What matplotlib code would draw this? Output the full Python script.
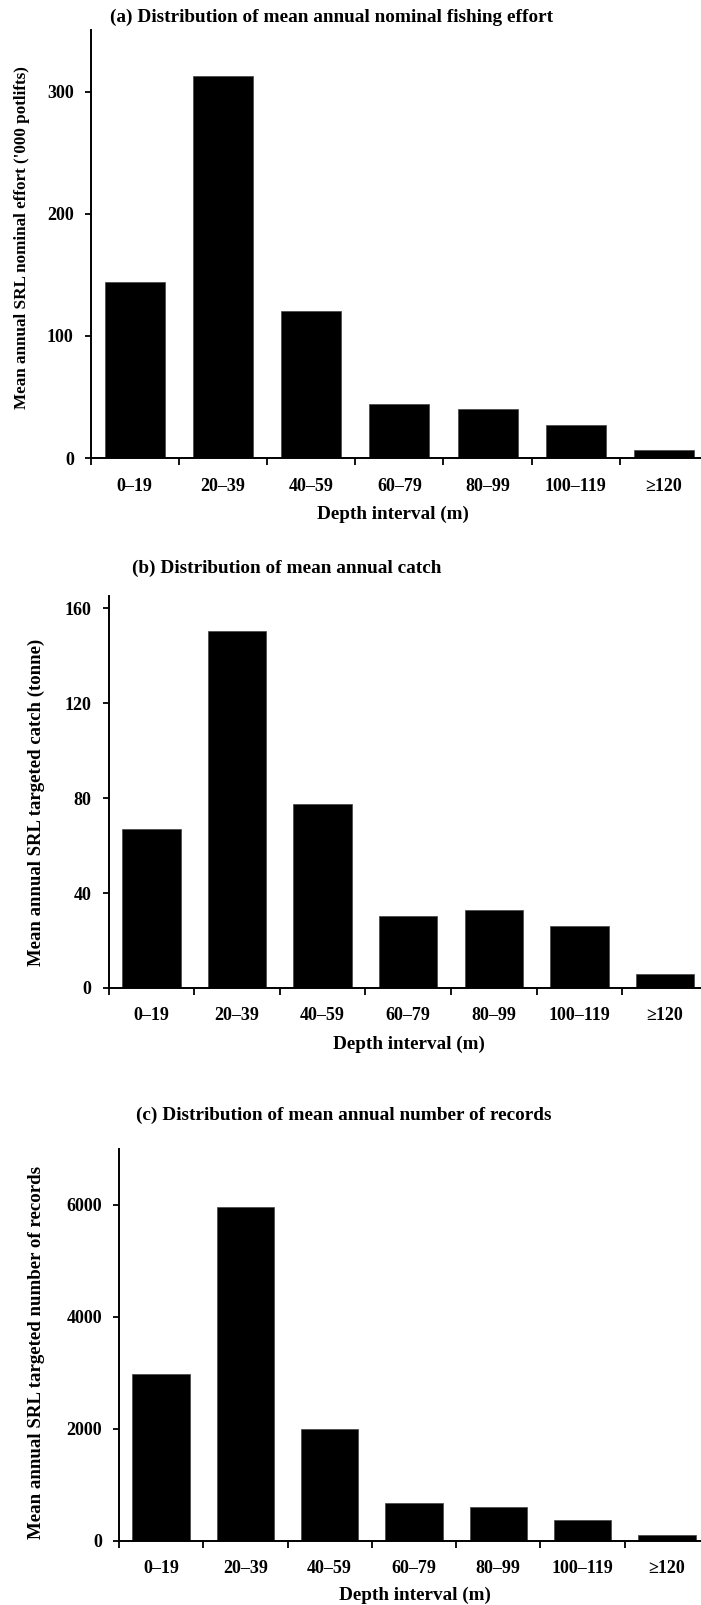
import matplotlib
matplotlib.use('Agg')
import matplotlib.pyplot as plt
import numpy as np

plt.rcParams['font.family'] = ['Liberation Serif', 'DejaVu Serif']
plt.rcParams['font.weight'] = 'bold'

depth = ['0\u201319', '20\u201339', '40\u201359', '60\u201379', '80\u201399', '100\u2013119', '\u2265120']
effort = [144, 313, 120, 44, 40, 27, 7]
catch = [67, 150.5, 77.5, 30.5, 33, 26, 6]
records = [2980, 5950, 2000, 676, 595, 378, 93]

W, H = 701, 1605
fig = plt.figure(figsize=(W / 100, H / 100), dpi=100)

# panel layout in pixels: left, right, top, bottom(zero line)
panels = [
    dict(box=(90.7, 708, 30.4, 458.1), vals=effort, ymax=350, ticks=[0, 100, 200, 300],
         title='(a) Distribution of mean annual nominal fishing effort', tpos=(332, 17),
         ylabel="Mean annual SRL nominal effort ('000 potlifts)", ypos=(22.4, 238), ysize=12.3,
         xpos=(393, 514)),
    dict(box=(108.6, 707.8, 596, 988), vals=catch, ymax=165.2, ticks=[0, 40, 80, 120, 160],
         title='(b) Distribution of mean annual catch', tpos=(287, 568),
         ylabel='Mean annual SRL targeted catch (tonne)', ypos=(36.7, 802), ysize=13.5,
         xpos=(409, 1044)),
    dict(box=(118.9, 709, 1148.6, 1540.7), vals=records, ymax=7000, ticks=[0, 2000, 4000, 6000],
         title='(c) Distribution of mean annual number of records', tpos=(344, 1115.6),
         ylabel='Mean annual SRL targeted number of records', ypos=(36.7, 1352), ysize=13.6,
         xpos=(414.6, 1595.3)),
]

for p in panels:
    l, r, t, b = p['box']
    ax = fig.add_axes([l / W, 1 - b / H, (r - l) / W, (b - t) / H])
    x = np.arange(len(depth)) + 0.5
    ax.bar(x, p['vals'], width=0.68, color='black', edgecolor='#444444', linewidth=0.5)
    ax.set_xlim(0, len(depth))
    ax.set_ylim(0, p['ymax'])
    for s in ['top', 'right']:
        ax.spines[s].set_visible(False)
    for s in ['left', 'bottom']:
        ax.spines[s].set_linewidth(1.4)
    ax.set_yticks(p['ticks'])
    ax.tick_params(axis='y', direction='out', length=4.2, width=1.3, pad=8, labelsize=13)
    ax.set_xticks(np.arange(len(depth) + 1))
    ax.set_xticklabels([])
    ax.set_xticks(x, minor=True)
    ax.set_xticklabels(depth, minor=True)
    ax.tick_params(axis='x', which='major', direction='out', length=4.8, width=1.3)
    ax.tick_params(axis='x', which='minor', length=0, pad=14, labelsize=13)

    fig.text(p['tpos'][0] / W, 1 - p['tpos'][1] / H, p['title'], ha='center', va='center',
             fontsize=13.9, fontweight='bold')
    fig.text(p['xpos'][0] / W, 1 - p['xpos'][1] / H, 'Depth interval (m)', ha='center', va='center',
             fontsize=13.8, fontweight='bold')
    fig.text(p['ypos'][0] / W, 1 - p['ypos'][1] / H, p['ylabel'], ha='center', va='center',
             rotation=90, fontsize=p['ysize'], fontweight='bold')

fig.savefig('out.png', dpi=100)
